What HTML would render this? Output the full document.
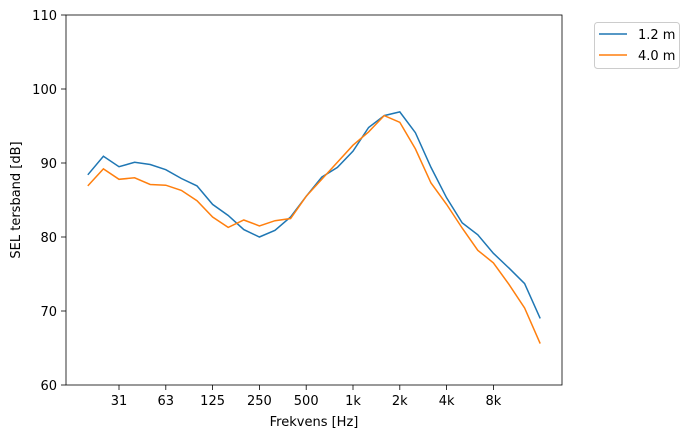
<!DOCTYPE html>
<html><head><meta charset="utf-8"><style>
body{margin:0;background:#fff;}
svg text{font-family:"DejaVu Sans","Liberation Sans",sans-serif;font-size:13px;fill:#000;}
</style></head><body>
<svg width="693" height="438" viewBox="0 0 693 438" xmlns="http://www.w3.org/2000/svg">
<rect width="693" height="438" fill="#fff"/>
<g stroke="#000" stroke-width="0.8">
<line x1="66" y1="385" x2="61" y2="385"/><line x1="66" y1="311" x2="61" y2="311"/>
<line x1="66" y1="237" x2="61" y2="237"/><line x1="66" y1="163" x2="61" y2="163"/>
<line x1="66" y1="89" x2="61" y2="89"/><line x1="66" y1="15" x2="61" y2="15"/>
<line x1="119" y1="385" x2="119" y2="390"/><line x1="165.8" y1="385" x2="165.8" y2="390"/>
<line x1="212.6" y1="385" x2="212.6" y2="390"/><line x1="259.4" y1="385" x2="259.4" y2="390"/>
<line x1="306.2" y1="385" x2="306.2" y2="390"/><line x1="353" y1="385" x2="353" y2="390"/>
<line x1="399.8" y1="385" x2="399.8" y2="390"/><line x1="446.6" y1="385" x2="446.6" y2="390"/>
<line x1="493.4" y1="385" x2="493.4" y2="390"/>
</g>
<g text-anchor="end">
<text x="57" y="390">60</text><text x="57" y="316">70</text><text x="57" y="242">80</text>
<text x="57" y="168">90</text><text x="57" y="94">100</text><text x="57" y="20">110</text>
</g>
<g text-anchor="middle">
<text x="119" y="405">31</text><text x="165.8" y="405">63</text><text x="212.6" y="405">125</text>
<text x="259.4" y="405">250</text><text x="306.2" y="405">500</text><text x="353" y="405">1k</text>
<text x="399.8" y="405">2k</text><text x="446.6" y="405">4k</text><text x="493.4" y="405">8k</text>
<text x="314" y="426">Frekvens [Hz]</text>
<text transform="translate(20,200) rotate(-90)">SEL tersband [dB]</text>
</g>
<polyline fill="none" stroke="#1f77b4" stroke-width="1.5" points="87.8,174.8 103.4,156.3 119,166.7 134.6,162.3 150.2,164.5 165.8,169.7 181.4,178.5 197,185.9 212.6,204.4 228.2,215.5 243.8,229.6 259.4,237 275,230.3 290.6,217 306.2,196.3 321.8,177.1 337.4,167.4 353,151.2 368.6,127.5 384.2,115.6 399.8,111.9 415.4,132.7 431,167.4 446.6,197.8 462.2,222.9 477.8,234.8 493.4,253.3 509,268.1 524.6,283.6 540.2,318.4"/>
<polyline fill="none" stroke="#ff7f0e" stroke-width="1.5" points="87.8,185.9 103.4,168.9 119,179.3 134.6,177.8 150.2,184.5 165.8,185.2 181.4,190.4 197,200.7 212.6,217 228.2,227.4 243.8,220 259.4,225.9 275,220.7 290.6,218.5 306.2,196.3 321.8,179.3 337.4,162.3 353,145.2 368.6,131.9 384.2,115.6 399.8,122.3 415.4,148.9 431,183 446.6,204.4 462.2,228.1 477.8,250.3 493.4,262.9 509,284.4 524.6,308 540.2,343.6"/>
<rect x="66" y="15" width="496" height="370" fill="none" stroke="#000" stroke-width="0.8"/>
<rect x="594.5" y="22.5" width="85" height="46" rx="3" fill="#fff" stroke="#ccc"/>
<line x1="599" y1="34" x2="627" y2="34" stroke="#1f77b4" stroke-width="1.5"/>
<line x1="599" y1="55" x2="627" y2="55" stroke="#ff7f0e" stroke-width="1.5"/>
<text x="638" y="39">1.2 m</text><text x="638" y="60">4.0 m</text>
</svg>
</body></html>
